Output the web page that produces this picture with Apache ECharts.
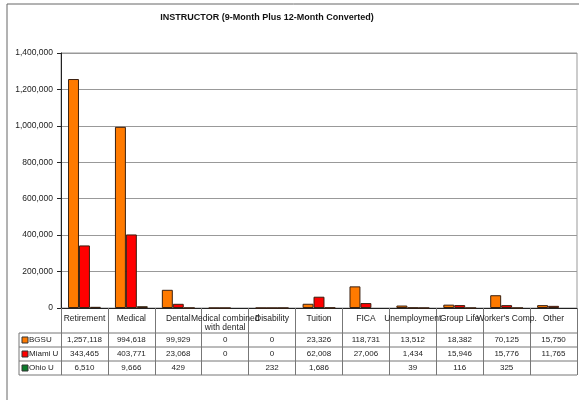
<!DOCTYPE html>
<html>
<head>
<meta charset="utf-8">
<script src="https://cdn.jsdelivr.net/npm/echarts@6/dist/echarts.min.js"></script>
<style>
  html, body { margin: 0; padding: 0; background: #fff; }
  #chart { width: 579px; height: 400px; }
</style>
</head>
<body>
<div id="chart"></div>
<script>
var categories = ['Retirement', 'Medical', 'Dental', 'Medical combined\nwith dental', 'Disability',
  'Tuition', 'FICA', 'Unemployment', 'Group Life', "Worker's Comp.", 'Other'];
var seriesNames = ['BGSU', 'Miami U', 'Ohio U'];
var bgsu = [1257118, 994618, 99929, 0, 0, 23326, 118731, 13512, 18382, 70125, 15750];
var miami = [343465, 403771, 23068, 0, 0, 62008, 27006, 1434, 15946, 15776, 11765];
var ohio = [6510, 9666, 429, null, 232, 1686, null, 39, 116, 325, null];
var yTicks = [0, 200000, 400000, 600000, 800000, 1000000, 1200000, 1400000];

var colors = ['#ff7a00', '#ff0000', '#0a7a2a'];
var rows = [bgsu, miami, ohio];
var font = 'Liberation Sans, Arial, sans-serif';

function fmt(v) {
  if (v === null || v === undefined) return '';
  return v.toLocaleString('en-US');
}

var gridL = 61, gridT = 53, gridR = 577, gridB = 308;
var tableL = 19, rowTop = 333, rowH = 14;

var chart = echarts.init(document.getElementById('chart'));

var xAxes = [{
  type: 'category',
  data: categories,
  position: 'bottom',
  axisLine: { lineStyle: { color: '#222', width: 1 } },
  axisTick: { show: true, interval: 0, length: rowTop + rowH * 3 - gridB, lineStyle: { color: '#777' } },
  axisLabel: { interval: 0, margin: 6, fontSize: 8.5, fontFamily: font, color: '#222', lineHeight: 9 }
}];
rows.forEach(function (r, i) {
  xAxes.push({
    type: 'category',
    data: categories,
    position: 'bottom',
    offset: rowTop - gridB + rowH * i,
    axisLine: { show: false },
    axisTick: { show: false },
    axisLabel: {
      interval: 0, margin: 3, fontSize: 8, fontFamily: font, color: '#222',
      formatter: function (val, idx) { return fmt(r[idx]); }
    }
  });
});

var graphics = [
  { type: 'rect', shape: { x: 7, y: 4, width: 600, height: 420 }, style: { fill: 'none', stroke: '#666', lineWidth: 1 } },
  { type: 'text', x: 267, y: 18, style: { text: 'INSTRUCTOR (9-Month Plus 12-Month Converted)', font: 'bold 9px ' + font, fill: '#111', align: 'center', verticalAlign: 'middle' } },
  { type: 'line', shape: { x1: tableL, y1: rowTop, x2: tableL, y2: rowTop + rowH * 3 }, style: { stroke: '#777', lineWidth: 1 } }
];
for (var k = 0; k <= 3; k++) {
  graphics.push({ type: 'line', shape: { x1: tableL, y1: rowTop + rowH * k, x2: gridR, y2: rowTop + rowH * k }, style: { stroke: '#777', lineWidth: 1 } });
}
seriesNames.forEach(function (n, i) {
  var cy = rowTop + rowH * i + rowH / 2;
  graphics.push({ type: 'rect', shape: { x: 22, y: cy - 3, width: 6, height: 6 }, style: { fill: colors[i], stroke: '#333', lineWidth: 1 } });
  graphics.push({ type: 'text', x: 29, y: cy, style: { text: n, font: '8px ' + font, fill: '#222', verticalAlign: 'middle' } });
});

var option = {
  animation: false,
  backgroundColor: '#fff',
  grid: { left: gridL, top: gridT, right: 579 - gridR, bottom: 400 - gridB, show: true, borderColor: '#999', borderWidth: 1 },
  xAxis: xAxes,
  yAxis: {
    type: 'value',
    min: yTicks[0],
    max: yTicks[yTicks.length - 1],
    interval: yTicks[1] - yTicks[0],
    axisLine: { show: true, lineStyle: { color: '#222' } },
    axisTick: { show: true, length: 4, lineStyle: { color: '#222' } },
    splitLine: { lineStyle: { color: '#999' } },
    axisLabel: { fontSize: 8.5, fontFamily: font, color: '#222', margin: 8, formatter: function (v) { return fmt(v); } }
  },
  series: rows.map(function (r, i) {
    return {
      name: seriesNames[i],
      type: 'bar',
      data: r,
      barGap: '0%',
      barCategoryGap: '30%',
      itemStyle: { color: colors[i], borderColor: '#3a2010', borderWidth: 1 }
    };
  }),
  graphic: graphics
};
chart.setOption(option);
</script>
</body>
</html>
